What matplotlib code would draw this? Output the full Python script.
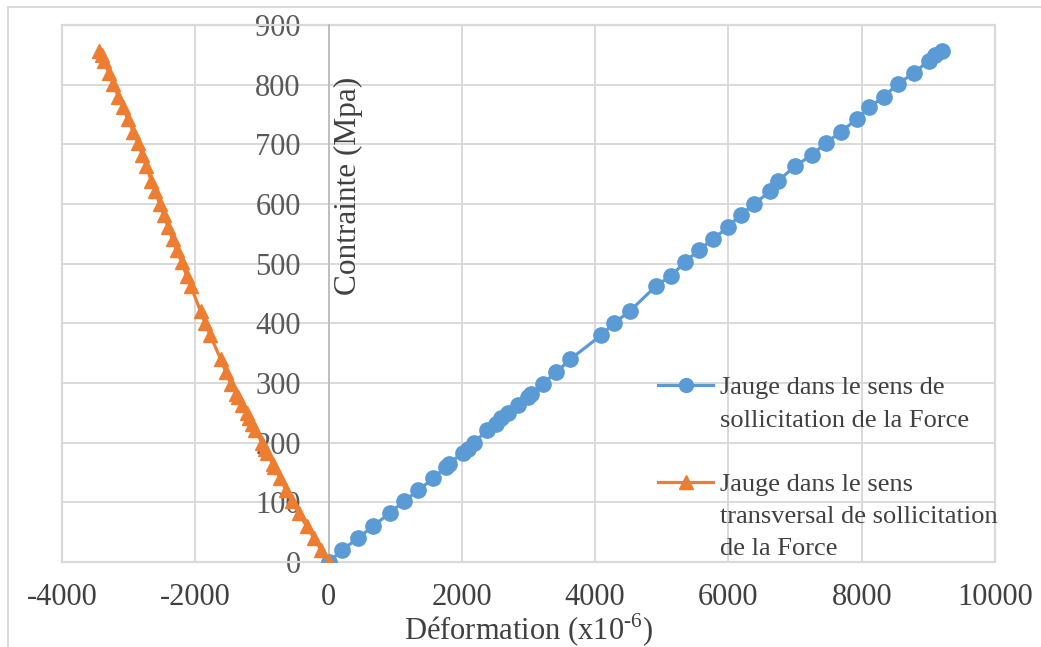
# stress-strain curves of the two strain gauges (longitudinal / transversal)
import matplotlib
matplotlib.use('Agg')
import matplotlib.pyplot as plt
from matplotlib.lines import Line2D
from matplotlib.patches import Rectangle

plt.rcParams['font.family'] = ['Liberation Serif', 'DejaVu Serif']
plt.rcParams['mathtext.fontset'] = 'custom'
plt.rcParams['mathtext.rm'] = 'Liberation Serif'
plt.rcParams['axes.unicode_minus'] = False

# stress values (Mpa), same loading steps for both gauges
contrainte = [0, 20, 40, 60, 82, 102, 120, 140, 160, 165,
              183, 190, 199, 221, 232, 241, 249, 263, 277, 282,
              299, 318, 340, 380, 401, 420, 463, 480, 502, 523,
              541, 562, 582, 600, 621, 639, 663, 682, 702, 721,
              742, 762, 780, 801, 820, 840, 850, 857]

# gauge along the force direction (x10-6)
def_longi = [0, 205, 441, 667, 917, 1133, 1343, 1569, 1760, 1810,
             2010, 2085, 2175, 2376, 2511, 2586, 2687, 2837, 2990, 3040,
             3213, 3418, 3629, 4090, 4290, 4516, 4917, 5143, 5343, 5554,
             5770, 5996, 6186, 6386, 6621, 6747, 6997, 7248, 7463, 7684,
             7925, 8115, 8331, 8541, 8787, 9003, 9103, 9203]

# gauge transversal to the force direction (x10-6)
def_trans = [0, -110, -220, -330, -450, -555, -635, -725, -815, -840,
             -920, -950, -995, -1100, -1150, -1195, -1230, -1300, -1365, -1390,
             -1470, -1540, -1620, -1775, -1855, -1920, -2070, -2130, -2205, -2280,
             -2340, -2410, -2475, -2535, -2600, -2660, -2735, -2795, -2860, -2930,
             -3010, -3085, -3155, -3230, -3300, -3370, -3405, -3438]

x_ticks = [-4000, -2000, 0, 2000, 4000, 6000, 8000, 10000]
y_ticks = [0, 100, 200, 300, 400, 500, 600, 700, 800, 900]

label_longi = ["Jauge dans le sens de", "sollicitation de la Force"]
label_trans = ["Jauge dans le sens", "transversal de sollicitation", "de la Force"]

BLUE = '#5B9BD5'
ORANGE = '#ED7D31'
GRID = '#D9D9D9'

W, H = 1041, 647
fig = plt.figure(figsize=(W / 100, H / 100), dpi=100)
ax = fig.add_axes([62 / W, (H - 562) / H, (995 - 62) / W, (562 - 25) / H])

ax.plot(def_longi, contrainte, '-o', color=BLUE, lw=2.3, ms=11, zorder=3)
ax.plot(def_trans, contrainte, '-^', color=ORANGE, lw=2.3, ms=10.5, zorder=4)

ax.set_xlim(-4000, 10000)
ax.set_ylim(0, 900)
ax.set_xticks(x_ticks)
ax.set_yticks(y_ticks)
ax.set_xticklabels([str(t) for t in x_ticks])
ax.grid(True, color=GRID, lw=1.4, zorder=0)
ax.set_axisbelow(True)

# y axis goes through x = 0 like in excel
ax.spines['left'].set_position(('data', 0))
ax.spines['left'].set_color('#BFBFBF')
ax.spines['left'].set_linewidth(1.4)
for s in ['top', 'right', 'bottom']:
    ax.spines[s].set_visible(False)
ax.add_patch(Rectangle((0, 0), 1, 1, transform=ax.transAxes, fill=False,
                       ec=GRID, lw=1.6, zorder=1, clip_on=False))

ax.tick_params(axis='y', length=0, pad=20, labelsize=22, labelcolor='#595959')
ax.tick_params(axis='x', length=0, pad=15, labelsize=22, labelcolor='#404040')

ax.set_xlabel('Déformation (x10$^{\\text{-6}}$)', fontsize=22,
              color='#404040', labelpad=0)
ax.text(0.3065, 0.70, 'Contrainte (Mpa)', transform=ax.transAxes, rotation=90,
        ha='center', va='center', fontsize=22.5, color='#404040')

# legend: handle on the first line of each label, blank rows for the others
blank = Line2D([], [], linestyle='none')
handles = [Line2D([], [], color=BLUE, lw=2.3, marker='o', ms=10), blank, blank,
           Line2D([], [], color=ORANGE, lw=2.3, marker='^', ms=10), blank, blank]
labels = [label_longi[0], label_longi[1], ''] + label_trans
fig.legend(handles, labels, loc='upper left', bbox_to_anchor=(658 / W, 1 - 376 / H),
           frameon=False, fontsize=19, labelspacing=0.33, handlelength=2.1,
           handletextpad=0.25, borderpad=0, borderaxespad=0, labelcolor='#404040')

# chart area border
fig.add_artist(Line2D([8 / W, 1], [1 - 7 / H, 1 - 7 / H], color=GRID, lw=1.4))
fig.add_artist(Line2D([8 / W, 8 / W], [0, 1 - 7 / H], color=GRID, lw=1.4))

fig.savefig('out.png', dpi=100, facecolor='white')
